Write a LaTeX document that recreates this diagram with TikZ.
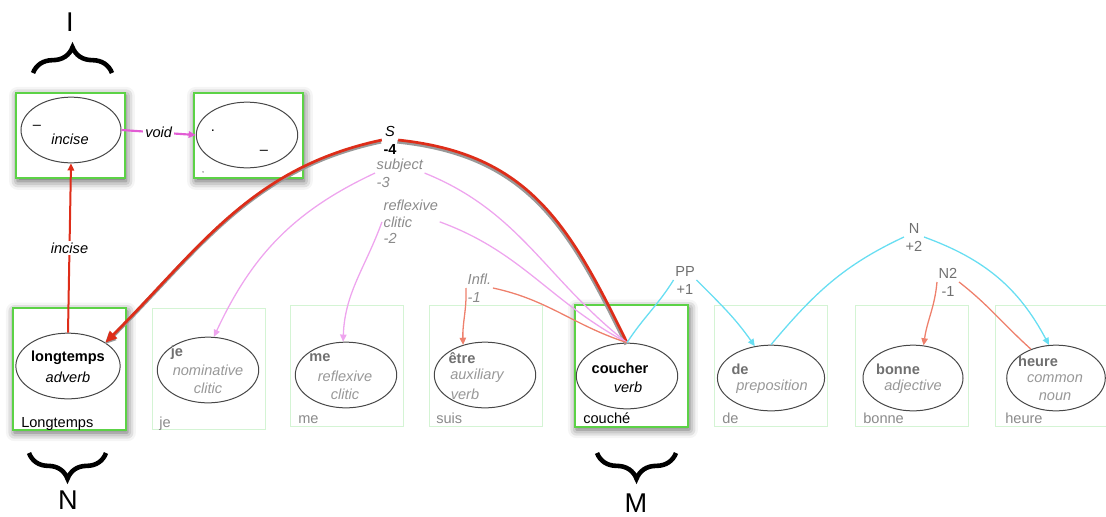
\documentclass[tikz,border=0pt]{standalone}
\usepackage{fontspec}
\setmainfont{Liberation Sans}
\usepackage{xcolor}
\usetikzlibrary{positioning,arrows.meta,shapes.geometric,shadows.blur,decorations.pathreplacing}

\definecolor{boxgreen}{RGB}{92,210,70}
\definecolor{ghostgreen}{RGB}{212,244,212}
\definecolor{edgered}{RGB}{222,45,25}
\definecolor{edgepink}{RGB}{238,165,238}
\definecolor{edgemagenta}{RGB}{226,92,212}
\definecolor{edgesalmon}{RGB}{238,128,108}
\definecolor{edgecyan}{RGB}{104,222,242}
\definecolor{wordgray}{RGB}{112,112,112}
\definecolor{posgray}{RGB}{152,152,152}
\definecolor{labgray}{RGB}{138,138,138}

\begin{document}
\begin{tikzpicture}[x=0.7pt, y=-0.7pt,
  font=\fontsize{10.2}{12.6}\selectfont,
  headbox/.style={rectangle, draw=boxgreen, line width=1.4pt, fill=white,
                  blur shadow={shadow xshift=1pt, shadow yshift=-2pt, shadow blur radius=6pt, shadow opacity=65}},
  wordbox/.style={headbox, minimum width=79pt, minimum height=85pt},
  topbox/.style={headbox, minimum width=76pt, minimum height=60pt},
  ghostbox/.style={rectangle, draw=ghostgreen, line width=0.6pt, minimum width=79pt, minimum height=85pt},
  oval/.style={ellipse, draw=black!72, line width=0.7pt, fill=white, minimum width=71pt,
               minimum height=46pt, inner sep=0pt},
  word/.style={font=\fontsize{10.2}{12.6}\selectfont\bfseries, inner sep=0pt},
  posname/.style={font=\fontsize{10.2}{12.6}\selectfont\itshape, inner sep=0pt},
  tok/.style={anchor=base west, inner sep=0pt},
  fade/.style={text=posgray},
  lab/.style={font=\fontsize{10.2}{12.6}\selectfont\itshape, text=labgray, align=left, inner sep=1pt},
  cat/.style={text=wordgray, align=center, inner sep=1pt},
  big/.style={font=\fontsize{19}{22}\selectfont},
  curly/.style={decorate, decoration={brace, amplitude=18pt}, line width=3.2pt},
  arr/.style={-{Triangle[length=5pt,width=4.5pt]}},
  redarc/.style={draw=edgered, line width=1.4pt},
  sarc/.style={draw=edgered, line width=1.9pt,
               preaction={draw=black!40, line width=2.6pt, transform canvas={xshift=-0.6pt,yshift=-1.2pt}}},
  pinkarc/.style={draw=edgepink, line width=0.9pt},
  salmonarc/.style={draw=edgesalmon, line width=0.9pt},
  cyanarc/.style={draw=edgecyan, line width=0.9pt},
]
\useasboundingbox (0,0) rectangle (1106,516);

% top row
\node[topbox] (incBox) at (70.5,135.5) {};
\node[oval, minimum width=70pt] (inc) at (71,130) {};
\node[inner sep=0pt] (incDash) at (37,127) {--};
\node[posname] (incName) at (70,139) {incise};
\node[topbox] (voidBox) at (248.5,135.5) {};
\node[oval] (void) at (247,135) {};
\node[inner sep=0pt] (voidDot) at (213,131) {.};
\node[inner sep=0pt] (voidDash) at (264,152) {--};
\node[inner sep=0pt, font=\tiny] (voidTick) at (203,173) {,};

% word boxes
\node[wordbox] (lgBox) at (69.5,369) {};
\node[ghostbox] (jeBox) at (208.5,369) {};
\node[ghostbox] (meBox) at (346.5,366) {};
\node[ghostbox] (suisBox) at (486,366) {};
\node[wordbox] (coucheBox) at (631.5,366) {};
\node[ghostbox] (deBox) at (770.5,366) {};
\node[ghostbox] (bonneBox) at (912,366) {};
\node[ghostbox] (heureBox) at (1052,366) {};

\node[oval, minimum width=73pt] (lg) at (68,366) {};
\node[oval] (je) at (208,370) {};
\node[oval] (me) at (346,375) {};
\node[oval] (etre) at (485,375) {};
\node[oval] (couche) at (627,376) {};
\node[oval, minimum width=75pt] (de) at (771,378) {};
\node[oval, minimum width=70pt] (bonne) at (913,378) {};
\node[oval, minimum width=69pt] (heure) at (1056,378) {};

\node[word] (lgW) at (68,358) {longtemps};
\node[posname] (lgP) at (68,377) {adverb};
\node[word, text=wordgray] (jeW) at (177,353) {je};
\node[posname, fade] (jeP) at (208,370) {nominative};
\node[posname, fade] (jeP2) at (208,388) {clitic};
\node[word, text=wordgray] (meW) at (320,358) {me};
\node[posname, fade] (meP) at (345,376) {reflexive};
\node[posname, fade] (meP2) at (345,394) {clitic};
\node[word, text=wordgray] (etreW) at (462,358) {être};
\node[posname, fade] (etreP) at (477,376) {auxiliary};
\node[posname, fade] (etreP2) at (465,394) {verb};
\node[word] (coucheW) at (620,368) {coucher};
\node[posname] (coucheP) at (628,387) {verb};
\node[word, text=wordgray] (deW) at (740,369) {de};
\node[posname, fade] (deP) at (772,387) {preposition};
\node[word, text=wordgray] (bonneW) at (898,369) {bonne};
\node[posname, fade] (bonneP) at (913,387) {adjective};
\node[word, text=wordgray] (heureW) at (1038,361) {heure};
\node[posname, fade] (heureP) at (1055,379) {common};
\node[posname, fade] (heureP2) at (1055,397) {noun};

\node[tok] (lgTok) at (21,427) {Longtemps};
\node[tok, text=labgray] (jeTok) at (159,427) {je};
\node[tok, text=labgray] (meTok) at (298,423) {me};
\node[tok, text=labgray] (suisTok) at (436,423) {suis};
\node[tok] (coucheTok) at (583,423) {couché};
\node[tok, text=labgray] (deTok) at (722,423) {de};
\node[tok, text=labgray] (bonneTok) at (863,423) {bonne};
\node[tok, text=labgray] (heureTok) at (1005,423) {heure};

% arc labels
\node[align=center, inner sep=1pt] (sLab) at (390,140) {\textit{S}\\\textbf{-4}};
\node[lab, anchor=north west] (subjLab) at (375,157) {subject\\-3};
\node[lab, anchor=north west, font=\fontsize{10.2}{11.8}\selectfont\itshape] (refLab) at (382,198) {reflexive\\clitic\\-2};
\node[lab, anchor=north west] (inflLab) at (466,272) {Infl.\\-1};
\node[cat] (ppLab) at (685,280) {PP\\+1};
\node[cat] (nLab) at (914,237) {N\\+2};
\node[cat] (n2Lab) at (948,282) {N2\\-1};

% arcs
\draw[redarc, arr] (lg.north) -- node[posname, fill=white, inner sep=1.5pt] (inciseLab) {incise} (inc.south);
\draw[draw=edgemagenta, line width=1.5pt, arr] (inc.east) -- node[posname, fill=white, inner sep=1.5pt] (voidLab) {void} (void.west);
\draw[sarc] (couche.north) to[out=116, in=-6, looseness=1.1] (sLab.east);
\draw[sarc, -{Triangle[length=8pt,width=7pt]}] (sLab.west) to[out=192, in=45] (lg.32);
\draw[pinkarc] (couche.north) to[out=142, in=-22] (subjLab.east);
\draw[pinkarc, arr] (subjLab.west) to[out=205, in=65] (je.80);
\draw[pinkarc] (couche.north) to[out=152, in=-20] (refLab.east);
\draw[pinkarc, arr] (refLab.west) to[out=250, in=88] (me.95);
\draw[salmonarc] (couche.north) to[out=162, in=-12] (inflLab.east);
\draw[salmonarc, arr] (inflLab.west) to[out=-88, in=92] (etre.126);
\draw[cyanarc] (couche.north) to[out=57, in=-122] (ppLab.west);
\draw[cyanarc, arr] (ppLab.east) to[out=-45, in=125] (de.117);
\draw[cyanarc] (de.north) to[out=50, in=205] (nLab.west);
\draw[cyanarc, arr] (nLab.east) to[out=-20, in=118] (heure.102);
\draw[salmonarc] (heure.131) to[out=138, in=-38] (n2Lab.east);
\draw[salmonarc, arr] (n2Lab.west) to[out=-95, in=82] (bonne.72);

% braces
\coordinate (iLeft) at (33,73);
\coordinate (iRight) at (112,73);
\draw[curly] (iLeft) -- (iRight);
\node[big] (iMark) at (70,22) {I};
\coordinate (nLeft) at (29,453);
\coordinate (nRight) at (106,453);
\draw[curly] (nRight) -- (nLeft);
\node[big] (nMark) at (68,500) {N};
\coordinate (mLeft) at (597,453);
\coordinate (mRight) at (676,453);
\draw[curly] (mRight) -- (mLeft);
\node[big] (mMark) at (636,503) {M};
\end{tikzpicture}
\end{document}
